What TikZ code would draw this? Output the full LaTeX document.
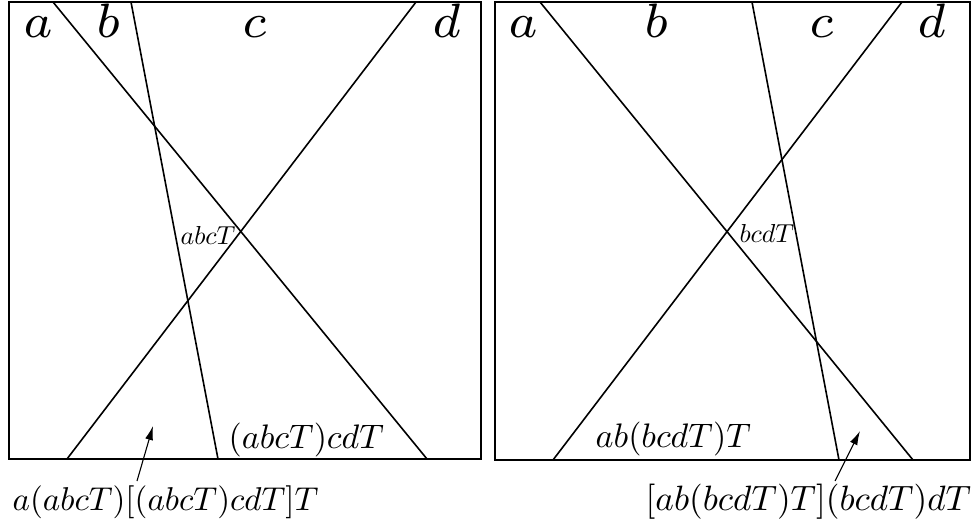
\documentclass[tikz,border=0pt]{standalone}
\usetikzlibrary{arrows.meta}
\begin{document}
\begin{tikzpicture}[x=1pt,y=-1pt,
  edge/.style={line width=1.6pt},
  frame/.style={line width=1.8pt},
  corner/.style={anchor=base,inner sep=0pt,scale=6.9},
  inlab/.style={anchor=base west,inner sep=0pt,scale=2.6},
  midlab/.style={anchor=base west,inner sep=0pt,scale=3.4},
  pointer/.style={line width=1.1pt,-{Latex[length=14pt,width=8pt]}}]
\useasboundingbox (0,0) rectangle (980,529);
% left panel
\coordinate (L1) at (9,2);
\coordinate (L2) at (481,459);
\draw[frame] (L1) rectangle (L2);
\coordinate (la1) at (53,2);  \coordinate (la2) at (427,459);
\coordinate (lb1) at (131,2); \coordinate (lb2) at (218,459);
\coordinate (lc1) at (416,2); \coordinate (lc2) at (67,459);
\draw[edge] (la1) -- (la2);
\draw[edge] (lb1) -- (lb2);
\draw[edge] (lc1) -- (lc2);
\node[corner] (La) at (38,38) {$\scriptstyle a$};
\node[corner] (Lb) at (109,38) {$\scriptstyle b$};
\node[corner] (Lc) at (255,38) {$\scriptstyle c$};
\node[corner] (Ld) at (447,38) {$\scriptstyle d$};
\node[inlab] (Labc) at (180,245) {$abcT$};
\node[midlab] (Lcd) at (228,448) {$(abcT)cdT$};
\node[anchor=base west,inner sep=0pt,scale=3.3] (Lbot) at (12,510) {$a(abcT)[(abcT)cdT]T$};
\coordinate (Ltail) at (137,481);
\coordinate (Lhead) at (153,426);
\draw[pointer] (Ltail) -- (Lhead);
% right panel
\coordinate (R1) at (495,2);
\coordinate (R2) at (970,460);
\draw[frame] (R1) rectangle (R2);
\coordinate (ra1) at (540,2);  \coordinate (ra2) at (913,460);
\coordinate (rb1) at (752,2);  \coordinate (rb2) at (839,460);
\coordinate (rc1) at (902,2);  \coordinate (rc2) at (553,460);
\draw[edge] (ra1) -- (ra2);
\draw[edge] (rb1) -- (rb2);
\draw[edge] (rc1) -- (rc2);
\node[corner] (Ra) at (523,38) {$\scriptstyle a$};
\node[corner] (Rb) at (657,38) {$\scriptstyle b$};
\node[corner] (Rc) at (822,38) {$\scriptstyle c$};
\node[corner] (Rd) at (932,38) {$\scriptstyle d$};
\node[inlab] (Rbcd) at (739,243) {$bcdT$};
\node[midlab] (Rab) at (595,447) {$ab(bcdT)T$};
\node[anchor=base west,inner sep=0pt,scale=3.52] (Rbot) at (645,510) {$[ab(bcdT)T](bcdT)dT$};
\coordinate (Rtail) at (835,481);
\coordinate (Rhead) at (860,431);
\draw[pointer] (Rtail) -- (Rhead);
\end{tikzpicture}
\end{document}
